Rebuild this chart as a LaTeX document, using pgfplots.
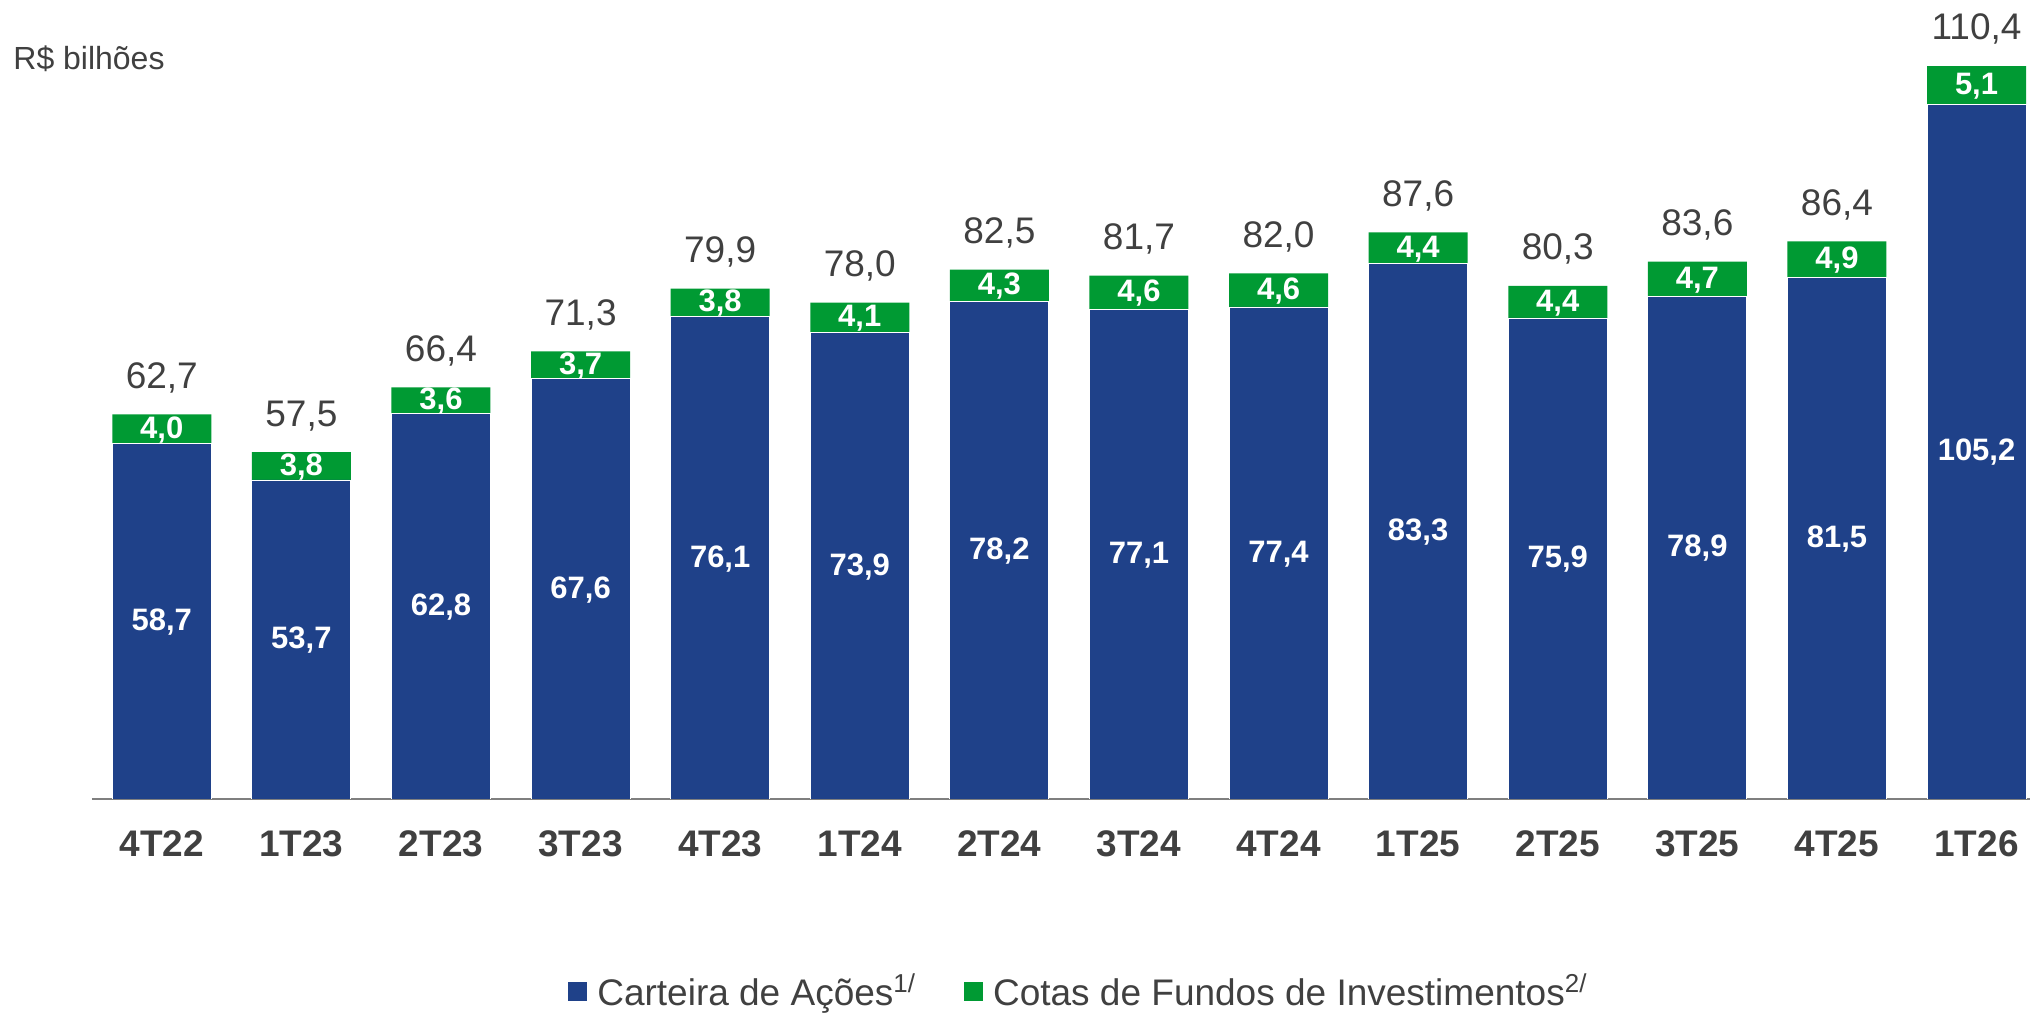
\documentclass[border=0pt]{standalone}
\usepackage{fontspec}
\setmainfont{Liberation Sans}
\usepackage{pgfplots}
\usepackage{pgfplotstable}
\pgfplotsset{compat=1.18}
\definecolor{cblue}{HTML}{1F4189}
\definecolor{cgreen}{HTML}{009A33}
\definecolor{ctext}{HTML}{404040}
\definecolor{caxis}{HTML}{7F7F7F}
\pgfplotstableread{
x q a b t
0 4T22 58.7 4.0 62.7
1 1T23 53.7 3.8 57.5
2 2T23 62.8 3.6 66.4
3 3T23 67.6 3.7 71.3
4 4T23 76.1 3.8 79.9
5 1T24 73.9 4.1 78.0
6 2T24 78.2 4.3 82.5
7 3T24 77.1 4.6 81.7
8 4T24 77.4 4.6 82.0
9 1T25 83.3 4.4 87.6
10 2T25 75.9 4.4 80.3
11 3T25 78.9 4.7 83.6
12 4T25 81.5 4.9 86.4
13 1T26 105.2 5.1 110.4
}\data
\begin{document}
\begin{tikzpicture}
\begin{axis}[
  name=ax,
  scale only axis,
  width=969pt, height=399.5pt,
  xmin=-0.5, xmax=13.383,
  ymin=10, ymax=119.45,
  enlargelimits=false,
  axis x line*=bottom,
  axis y line=none,
  x axis line style={draw=caxis, line width=1pt},
  xtick=data,
  xticklabels={4T22,1T23,2T23,3T23,4T23,1T24,2T24,3T24,4T24,1T25,2T25,3T25,4T25,1T26},
  major tick length=0pt,
  xticklabel style={font=\fontsize{18.5}{20}\selectfont\bfseries, text=ctext, inner sep=0pt, anchor=north, yshift=-15.5pt},
  ytick=\empty,
  /pgf/number format/assume math mode=true,
  /pgf/number format/.cd, use comma, fixed, fixed zerofill, precision=1, /pgfplots/.cd,
  legend style={at={(0.2425,-0.2405)}, anchor=west, draw=none, fill=none,
    font=\fontsize{18.5}{20}\selectfont, text=ctext,
    nodes={inner sep=0pt}, column sep=5pt,
    /tikz/every even column/.append style={column sep=24pt}},
  legend columns=2,
  legend image code/.code={\fill[#1, draw=none] (0pt,-4.75pt) rectangle (9.5pt,4.75pt);},
]
\addlegendimage{fill=cblue, draw=none}
\addlegendentry{Carteira de Ações\textsuperscript{1/}}
\addlegendimage{fill=cgreen, draw=none}
\addlegendentry{Cotas de Fundos de Investimentos\textsuperscript{2/}}
\addplot[forget plot, ybar, bar width=49.5pt, bar shift=0pt, fill=cgreen, draw=none] table[x=x, y=t]{\data};
\addplot[forget plot, ybar, bar width=49.5pt, bar shift=0pt, fill=cblue, draw=white, line width=0.4pt] table[x=x, y=a]{\data};
% totals
\addplot[forget plot, only marks, mark=none, point meta=explicit,
  nodes near coords={\pgfmathprintnumber{\pgfplotspointmeta}},
  every node near coord/.append style={font=\fontsize{18.5}{20}\selectfont, text=ctext, inner sep=0pt, yshift=10.5pt}]
  table[x=x, y=t, meta=t]{\data};
% blue labels
\addplot[forget plot, only marks, mark=none, point meta=explicit,
  nodes near coords={\pgfmathprintnumber{\pgfplotspointmeta}},
  every node near coord/.append style={font=\fontsize{15.5}{17}\selectfont\bfseries, text=white, inner sep=0pt, yshift=-7.3pt}]
  table[x=x, y expr=(\thisrow{a}+10)/2, meta=a]{\data};
% green labels
\addplot[forget plot, only marks, mark=none, point meta=explicit,
  nodes near coords={\pgfmathprintnumber{\pgfplotspointmeta}},
  every node near coord/.append style={font=\fontsize{15.5}{17}\selectfont\bfseries, text=white, inner sep=0pt, yshift=-7.3pt}]
  table[x=x, y expr=(\thisrow{a}+\thisrow{t})/2, meta=b]{\data};
\end{axis}
\node[anchor=base west, inner sep=0pt, font=\fontsize{16}{18}\selectfont, text=ctext] at ([xshift=-39.5pt, yshift=-35pt]ax.north west) {R\$ bilhões};
\pgfresetboundingbox
\path ([xshift=-46pt, yshift=-107.5pt]ax.south west) rectangle (ax.north east);
\end{tikzpicture}
\end{document}
